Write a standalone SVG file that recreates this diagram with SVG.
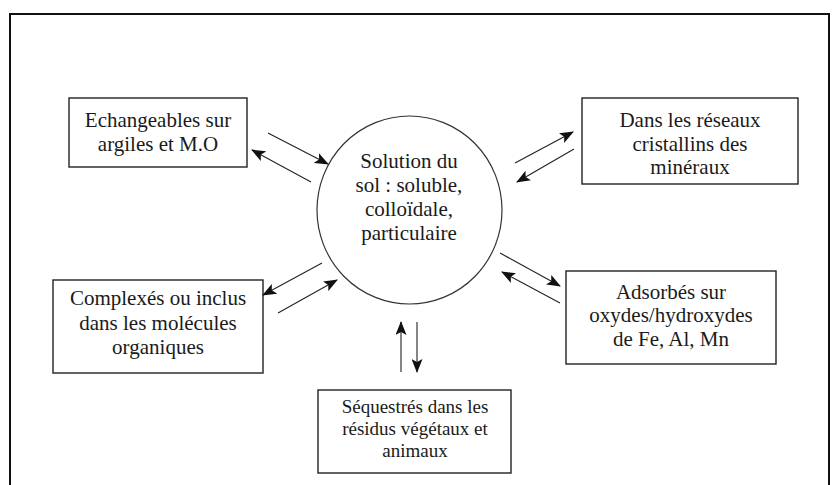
<svg xmlns="http://www.w3.org/2000/svg" width="840" height="485" viewBox="0 0 840 485">
<style>
.box{fill:#fff;stroke:#222;stroke-width:1.4}
text{font-family:'Liberation Serif','Times New Roman',Times,'DejaVu Serif',serif;fill:#1a1a1a;text-anchor:middle}
.t{font-size:21px}
.ts{font-size:19px}
.c{stroke:#222;stroke-width:1.1;fill:none;marker-end:url(#ah)}
</style>
<defs>
<marker id="ah" viewBox="0 0 14 11" refX="13" refY="5.5" markerWidth="14" markerHeight="11" markerUnits="userSpaceOnUse" orient="auto">
<path d="M0,0 L14,5.5 L0,11 L3,5.5 z" fill="#111"/>
</marker>
</defs>
<rect x="0" y="0" width="840" height="485" fill="#fff"/>
<rect x="10" y="14" width="819" height="480" fill="none" stroke="#111" stroke-width="2"/>

<g id="solution">
<ellipse cx="409.5" cy="210" rx="92.5" ry="94" fill="#fff" stroke="#333" stroke-width="1.2"/>
<text class="t" x="409" y="168">Solution du</text>
<text class="t" x="409" y="192">sol : soluble,</text>
<text class="t" x="409" y="216">colloïdale,</text>
<text class="t" x="409" y="240">particulaire</text>
</g>

<g id="echangeables">
<rect class="box" x="69" y="98" width="178" height="69"/>
<text class="t" x="158" y="127">Echangeables sur</text>
<text class="t" x="158" y="151">argiles et M.O</text>
</g>

<g id="reseaux">
<rect class="box" x="582" y="98" width="216" height="86"/>
<text class="t" x="690" y="127">Dans les réseaux</text>
<text class="t" x="690" y="151">cristallins des</text>
<text class="t" x="690" y="174">minéraux</text>
</g>

<g id="complexes">
<rect class="box" x="53" y="280" width="210" height="93"/>
<text class="t" x="158" y="305">Complexés ou inclus</text>
<text class="t" x="158" y="330">dans les molécules</text>
<text class="t" x="158" y="354">organiques</text>
</g>

<g id="adsorbes">
<rect class="box" x="566" y="271" width="210" height="93"/>
<text class="t" x="671" y="299">Adsorbés sur</text>
<text class="t" x="671" y="322">oxydes/hydroxydes</text>
<text class="t" x="671" y="346">de Fe, Al, Mn</text>
</g>

<g id="sequestres">
<rect class="box" x="318" y="390" width="193" height="83"/>
<text class="ts" x="415" y="413">Séquestrés dans les</text>
<text class="ts" x="415" y="435">résidus végétaux et</text>
<text class="ts" x="415" y="457">animaux</text>
</g>

<g id="connectors">
<line class="c" x1="268" y1="133" x2="328" y2="164"/>
<line class="c" x1="311" y1="182" x2="252" y2="150"/>
<line class="c" x1="515" y1="163" x2="573" y2="132"/>
<line class="c" x1="574" y1="149" x2="517" y2="182"/>
<line class="c" x1="322" y1="263" x2="263" y2="295"/>
<line class="c" x1="278" y1="313" x2="337" y2="280"/>
<line class="c" x1="500" y1="253" x2="560" y2="286"/>
<line class="c" x1="560" y1="303" x2="502" y2="272"/>
<line class="c" x1="401" y1="372" x2="401" y2="322"/>
<line class="c" x1="417" y1="322" x2="417" y2="372"/>
</g>
</svg>
